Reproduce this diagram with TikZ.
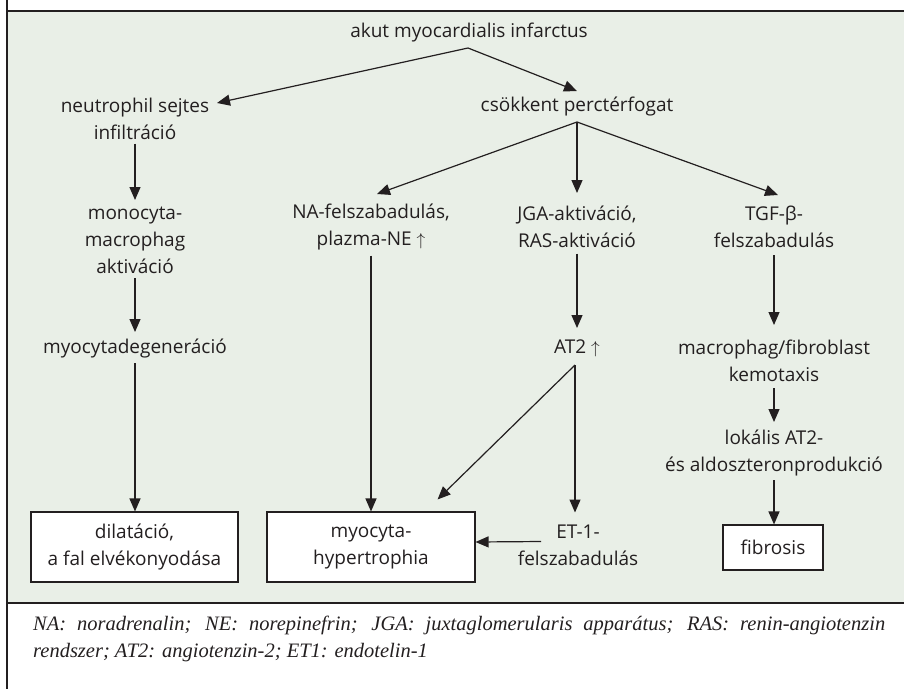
\documentclass[tikz,border=0pt]{standalone}
\usepackage{fontspec}
\setmainfont{Open Sans}
\newfontfamily\notefont{Liberation Serif}
\usetikzlibrary{arrows.meta,calc}
\definecolor{panel}{RGB}{233,239,231}
\definecolor{ink}{RGB}{35,31,32}
\begin{document}
\begin{tikzpicture}[x=1pt,y=-1pt,
  txt/.style={align=center, inner sep=0pt, outer sep=0pt, text=ink, font=\fontsize{19}{27}\selectfont},
  boxnode/.style={draw=ink, line width=1.1pt, fill=white, align=center, inner sep=0pt, text=ink, font=\fontsize{19}{27}\selectfont},
  arr/.style={draw=ink, line width=1.2pt, -{Triangle[length=13pt,width=11pt]}},
  frame/.style={draw=ink, line width=1.1pt}]
\useasboundingbox (0,0) rectangle (904,689);
\fill[panel] (7,11) rectangle (904,603);
\draw[frame] (7,0) -- (7,689);
\draw[frame] (7,11) -- (904,11);
\draw[frame] (7,603) -- (904,603);

% nodes
\node[txt] (ami) at (469,33) {akut myocardialis infarctus};
\node[txt] (neu) at (135,118.5) {neutrophil sejtes\\infiltráció};
\node[txt] (csk) at (577,106) {csökkent perctérfogat};
\node[txt] (mon) at (135,240) {monocyta-\\macrophag\\aktiváció};
\node[txt] (myd) at (135,348) {myocytadegeneráció};
\node[txt] (na) at (371,226.5) {NA-felszabadulás,\\plazma-NE $\uparrow$};
\node[txt] (jga) at (577,226.5) {JGA-aktiváció,\\RAS-aktiváció};
\node[txt] (tgf) at (774,226.5) {TGF-β-\\felszabadulás};
\node[txt] (at2) at (577,348) {AT2 $\uparrow$};
\node[txt] (mac) at (774,360.5) {macrophag/fibroblast\\kemotaxis};
\node[txt] (lok) at (774,452.5) {lokális AT2-\\és aldoszteronprodukció};
\node[txt] (et1) at (578,545.5) {ET-1-\\felszabadulás};
\node[boxnode, minimum width=207pt, minimum height=70pt] (dil) at (134.5,547) {dilatáció,\\a fal elvékonyodása};
\node[boxnode, minimum width=208pt, minimum height=70pt] (hyp) at (371,547) {myocyta-\\hypertrophia};
\node[boxnode, minimum width=100pt, minimum height=45pt] (fib) at (773,547.5) {fibrosis};
\node[anchor=base west, inner sep=0pt, text=ink, font=\notefont\itshape\fontsize{20.5}{27}\selectfont] (note) at (33,630)
  {\parbox[t]{852pt}{\hskip0pt NA: noradrenalin; NE: norepinefrin; JGA: juxtaglomerularis apparátus; RAS: renin-angiotenzin\linebreak
  rendszer; AT2: angiotenzin-2; ET1: endotelin-1}};

% branch points
\coordinate (amiS) at ($(ami.center)+(-1,15)$);
\coordinate (cskS) at ($(csk.center)+(0,16)$);
\coordinate (at2S) at ($(at2.center)+(-2,17)$);

% connectors
\draw[arr] (amiS) -- ($(neu.center)+(82,-15.5)$);
\draw[arr] (amiS) -- ($(csk.center)+(0,-15)$);
\draw[arr] (cskS) -- ($(na.center)+(6,-32.5)$);
\draw[arr] (cskS) -- ($(jga.center)+(0,-33.5)$);
\draw[arr] (cskS) -- ($(tgf.center)+(4,-31.5)$);
\draw[arr] ($(neu.center)+(0,25)$) -- ($(mon.center)+(0,-40)$);
\draw[arr] ($(mon.center)+(0,38)$) -- ($(myd.center)+(0,-16)$);
\draw[arr] ($(myd.center)+(0,15)$) -- (myd |- dil.north);
\draw[arr] ($(na.center)+(0,29)$) -- (hyp.north);
\draw[arr] ($(jga.center)+(0,27)$) -- ($(at2.center)+(0,-20)$);
\draw[arr] (at2S) -- ($(hyp.north east)+(-38,-12)$);
\draw[arr] (at2S) -- ($(et1.center)+(-3,-33)$);
\draw[arr] ($(et1.center)+(-37,-4)$) -- ($(hyp.east)+(0,-5)$);
\draw[arr] ($(tgf.center)+(0,28.5)$) -- ($(mac.center)+(0,-35.5)$);
\draw[arr] ($(mac.center)+(0,27.5)$) -- ($(lok.center)+(0,-30.5)$);
\draw[arr] ($(lok.center)+(0,27.5)$) -- (lok |- fib.north);
\end{tikzpicture}
\end{document}
